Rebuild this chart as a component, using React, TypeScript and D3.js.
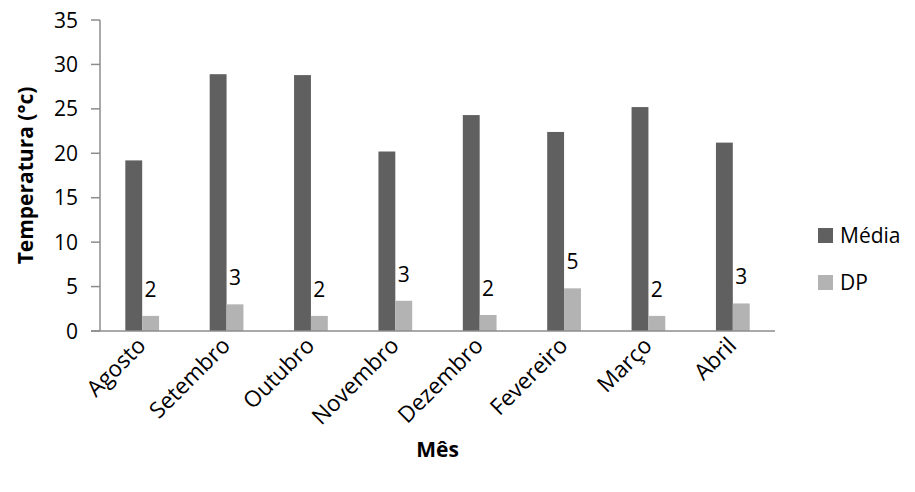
import React from "react";
import * as d3 from "d3";

// Monthly temperature: mean (Média) and standard deviation (DP)
const months = ["Agosto", "Setembro", "Outubro", "Novembro", "Dezembro", "Fevereiro", "Março", "Abril"];
const media = [19.2, 28.9, 28.8, 20.2, 24.3, 22.4, 25.2, 21.2];
const dp = [1.7, 3.0, 1.7, 3.4, 1.8, 4.8, 1.7, 3.1];
const yTicks = [0, 5, 10, 15, 20, 25, 30, 35];
const seriesNames = ["Média", "DP"];

const W = 915;
const H = 492;
const plot = { left: 100, right: 775, top: 20, bottom: 331 };
const colors = ["#606060", "#b3b3b3"];
const axisColor = "#8c8c8c";
const FONT = "'Open Sans', 'DejaVu Sans', sans-serif";

export default function App() {
  const x = d3.scaleBand<string>().domain(months).range([plot.left, plot.right]).padding(0);
  const y = d3.scaleLinear().domain([0, 35]).range([plot.bottom, plot.top]);
  const bw = x.step() / 5;
  const fmt = d3.format(".0f");

  return (
    <svg width={W} height={H} style={{ position: "absolute", left: 0, top: 0, background: "#fff" }} fontFamily={FONT}>
      {/* bars */}
      {months.map((m, i) => {
        const cx = (x(m) as number) + x.bandwidth() / 2;
        return (
          <g key={m}>
            <rect x={cx - bw} y={y(media[i])} width={bw} height={y(0) - y(media[i])} fill={colors[0]} />
            <rect x={cx} y={y(dp[i])} width={bw} height={y(0) - y(dp[i])} fill={colors[1]} />
            <text x={cx + bw / 2} y={y(dp[i]) - 19} textAnchor="middle" fontSize={21} fill="#000">
              {fmt(dp[i])}
            </text>
          </g>
        );
      })}

      {/* y axis */}
      <line x1={plot.left} x2={plot.left} y1={y(35)} y2={y(0)} stroke={axisColor} strokeWidth={1.5} />
      {yTicks.map((t) => (
        <g key={t}>
          <line x1={plot.left - 9} x2={plot.left} y1={y(t)} y2={y(t)} stroke={axisColor} strokeWidth={1.5} />
          <text x={plot.left - 22} y={y(t) + 7.5} textAnchor="end" fontSize={21} fill="#000">
            {t}
          </text>
        </g>
      ))}

      {/* x axis */}
      <line x1={plot.left - 9} x2={plot.right} y1={y(0)} y2={y(0)} stroke={axisColor} strokeWidth={1.5} />
      {months.map((m) => {
        const cx = (x(m) as number) + x.bandwidth() / 2;
        const ax = cx + 5;
        const ay = y(0) + 16;
        return (
          <text key={m} x={ax} y={ay} transform={`rotate(-45 ${ax} ${ay})`} textAnchor="end" fontSize={22.5} fill="#000">
            {m}
          </text>
        );
      })}

      {/* axis titles */}
      <text x={(plot.left + plot.right) / 2} y={457} textAnchor="middle" fontSize={21} fontWeight="bold" fill="#000">
        Mês
      </text>
      <text
        transform={`translate(33, ${(plot.top + plot.bottom) / 2}) rotate(-90)`}
        textAnchor="middle"
        fontSize={21}
        fontWeight="bold"
        fill="#000"
      >
        Temperatura (°c)
      </text>

      {/* legend */}
      {seriesNames.map((s, i) => (
        <g key={s} transform={`translate(818, ${228 + i * 47})`}>
          <rect x={0} y={0} width={15} height={15} fill={colors[i]} />
          <text x={22} y={15} fontSize={21} fill="#000">
            {s}
          </text>
        </g>
      ))}
    </svg>
  );
}
